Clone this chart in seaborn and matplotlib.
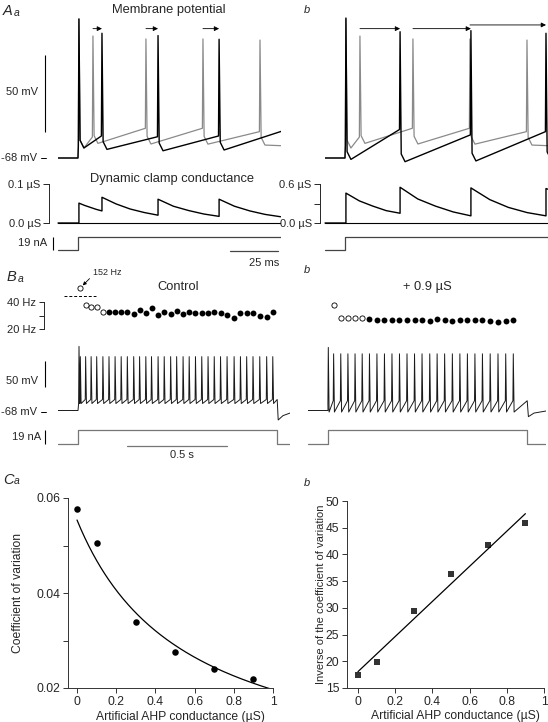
import numpy as np
import matplotlib
matplotlib.use('Agg')
import matplotlib.pyplot as plt
import seaborn as sns

# ---------------- A: single-trial traces (ms, mV, uS, nA) ----------------
step_on_ms = 10.4
step_na = 19
a_end_ms = 116.0

# control (grey) trace, same in Aa and Ab
ctrl_spk_ms = [10.9, 18.2, 45.8, 75.5, 105.2]
ctrl_peak_mv = [22.3, 11.2, 9.3, 9.3, 8.6]
ctrl_thr_mv = [-60.0, -54.4, -48.7, -48.7, -50.9]
ctrl_ahp_mv = [-61.5, -58.5, -58.9, -59.0, -59.6]
ctrl_end_mv = -60.0

# Aa: with dynamic clamp conductance (black)
lo_spk_ms = [10.9, 22.9, 52.1, 83.9]
lo_peak_mv = [22.3, 13.0, 11.5, 9.1]
lo_thr_mv = [-60.0, -53.7, -54.2, -53.7]
lo_ahp_mv = [-61.5, -62.4, -63.3, -62.8]
lo_end_mv = -50.0
lo_g_ms = [0, 10.9, 10.9, 13.9, 16.9, 19.9, 22.9, 22.9, 30.2, 37.5, 44.8, 52.1,
           52.1, 60.1, 68.0, 76.0, 83.9, 83.9, 91.9, 99.9, 107.9, 116.0]
lo_g_us = [0, 0, 0.051, 0.045, 0.040, 0.035, 0.031, 0.066, 0.049, 0.036, 0.027, 0.020,
           0.061, 0.043, 0.032, 0.023, 0.017, 0.061, 0.043, 0.031, 0.022, 0.016]

# Ab: larger conductance (black)
hi_spk_ms = [10.9, 39.1, 76.0, 115.1]
hi_peak_mv = [22.9, 14.0, 14.7, 13.0]
hi_thr_mv = [-60.0, -49.5, -53.0, -50.9]
hi_ahp_mv = [-68.9, -70.4, -69.9, -69.0]
hi_end_mv = -69.0
hi_g_ms = [0, 10.9, 10.9, 17.9, 24.9, 31.9, 39.1, 39.1, 48.3, 57.5, 66.8, 76.0,
           76.0, 85.8, 95.5, 105.3, 115.1, 115.1, 116.0]
hi_g_us = [0, 0, 0.46, 0.34, 0.26, 0.19, 0.15, 0.55, 0.37, 0.26, 0.17, 0.11,
           0.54, 0.36, 0.24, 0.16, 0.11, 0.53, 0.52]

# ---------------- B: 1 s current step (s, mV, Hz) ----------------
step_on_s, step_off_s = 0.1, 1.096
n_open = 5
break_hz, break_show_hz = 44, 50

ctrl_first_spk_s = 0.105
ctrl_freq_hz = [152, 37.6, 36.4, 35.9, 32.3,
                32.8, 32.8, 32.8, 32.6, 31.3, 34.0, 32.1, 35.2, 30.4, 32.6, 31.1, 33.3, 31.1,
                32.8, 31.8, 31.8, 31.8, 32.3, 31.8, 30.6, 28.4, 31.6, 32.1, 31.6, 29.6, 28.9, 32.8]
ctrl_b = dict(first_peak=57, peak=37, first_thr=-55, thr=-46.6, ahp=-54.4,
              tail_s=[1.096, 1.101, 1.125, 1.16], tail_mv=[-46.6, -86.5, -78.0, -73.0], end=1.16)

g09_first_spk_s = 0.1015
g09_freq_hz = [37.6, 28.0, 28.0, 28.0, 28.0,
               27.5, 26.8, 26.6, 26.6, 26.6, 26.6, 26.6, 26.6, 25.9, 27.2,
               26.6, 25.9, 26.6, 26.6, 26.6, 26.6, 25.8, 25.6, 25.9, 26.4]
g09_b = dict(first_peak=55, peak=42.5, first_thr=-55, thr=-49, ahp=-71,
             tail_s=[1.096, 1.102, 1.13, 1.19], tail_mv=[-49.0, -80.0, -73.0, -69.0], end=1.19)

# ---------------- C: regularity vs artificial AHP ----------------
ahp_us = [0, 0.1, 0.3, 0.5, 0.7, 0.9]
cv = [0.0576, 0.0506, 0.0340, 0.0275, 0.0239, 0.0218]
inv_cv = [17.5, 19.8, 29.4, 36.3, 41.7, 45.8]

# ------------------------------------------------------------------
sns.set_style('ticks')
plt.rcParams['font.family'] = ['Liberation Sans', 'DejaVu Sans']
plt.rcParams['axes.linewidth'] = 0.7

W, H = 548, 722
fig = plt.figure(figsize=(W / 100, H / 100), dpi=100)


def px_axes(l, t, r, b):
    ax = fig.add_axes([l / W, 1 - b / H, (r - l) / W, (b - t) / H])
    ax.set_facecolor('none')
    return ax


def calib_axes(l, t, r, b, x_at, x_val, x_per, y_at, y_val, y_per):
    # axes whose data units map to pixels like the original traces
    ax = px_axes(l, t, r, b)
    ax.set_xlim(x_val + (l - x_at) / x_per, x_val + (r - x_at) / x_per)
    ax.set_ylim(y_val - (b - y_at) / y_per, y_val + (y_at - t) / y_per)
    for s in ax.spines.values():
        s.set_visible(False)
    ax.set_xticks([])
    ax.set_yticks([])
    return ax


def ftext(x, y, s, **kw):
    kw.setdefault('va', 'center')
    fig.text(x / W, 1 - y / H, s, **kw)


def build_trace(onset, spikes, peaks, thr, ahp, tail_t, tail_v, rise, fall, knee=None, base=-68.0):
    # polyline through the read points: threshold, peak, (knee), AHP trough
    t, v = [0.0, onset], [base, base]
    for s, p, th, a in zip(spikes, peaks, thr, ahp):
        t += [s - rise, s]
        v += [th, p]
        if knee is not None:
            t.append(s + knee[0])
            v.append(a + knee[1])
        t.append(s + fall)
        v.append(a)
    return t + list(tail_t), v + list(tail_v)


def line(ax, x, y, **kw):
    sns.lineplot(x=x, y=y, sort=False, estimator=None, ax=ax, legend=False, **kw)
    ax.set_xlabel('')
    ax.set_ylabel('')


def vbar(ax, x, y0, y1, lw=0.8, color='k'):
    ax.plot([x, x], [y0, y1], color=color, lw=lw, clip_on=False, solid_capstyle='butt')


GREY = '#8a8a8a'
arrow_kw = dict(arrowstyle='-|>', lw=0.6, color='k', mutation_scale=7, shrinkA=0, shrinkB=0)
a_shape = dict(rise=0.3, fall=2.6, knee=(0.6, 5.0))

ctrl_t, ctrl_v = build_trace(step_on_ms, ctrl_spk_ms, ctrl_peak_mv, ctrl_thr_mv, ctrl_ahp_mv,
                             [a_end_ms], [ctrl_end_mv], **a_shape)

# ---------------- panel A ----------------
for col, (x0, spk, pk, thr, ahp, end_mv, g_t, g_v, g_top, g_per, arr_y, cond_l) in enumerate([
        (58, lo_spk_ms, lo_peak_mv, lo_thr_mv, lo_ahp_mv, lo_end_mv, lo_g_ms, lo_g_us, 0.1, 390, [16, 16, 16], 49),
        (325, hi_spk_ms, hi_peak_mv, hi_thr_mv, hi_ahp_mv, hi_end_mv, hi_g_ms, hi_g_us, 0.6, 65, [16, 16, 18.4], 320)]):
    right = x0 + a_end_ms * 1.92
    axv = calib_axes(x0, 10, right, 166, x0, 0, 1.92, 158, -68, 1.54)
    bt, bv = build_trace(step_on_ms, spk, pk, thr, ahp, [a_end_ms + 2], [end_mv], **a_shape)
    line(axv, ctrl_t, ctrl_v, color=GREY, lw=0.9)
    line(axv, bt, bv, color='k', lw=1.0)
    for i, y in zip([1, 2, 3], arr_y):
        axv.annotate('', xy=(spk[i], y), xytext=(ctrl_spk_ms[i], y), arrowprops=arrow_kw)

    axg = calib_axes(cond_l, 178, right, 226, x0, 0, 1.92, 223, 0, g_per)
    line(axg, [0, a_end_ms], [0, 0], color='k', lw=0.8)
    line(axg, g_t, g_v, color='k', lw=1.0)
    axg.spines['left'].set_visible(True)
    axg.spines['left'].set_bounds(0, g_top)
    if col == 0:
        axg.set_yticks([0, g_top], ['0.0 µS', '0.1 µS'])
    else:
        axg.set_yticks([0, g_top / 2, g_top], ['0.0 µS', '', '0.6 µS'])
    axg.tick_params(axis='y', direction='out', length=4, width=0.7, pad=2, labelsize=8)

    axi = calib_axes(x0 - 10, 233, right, 254, x0, 0, 1.92, 250, 0, 13 / 19)
    line(axi, [0, step_on_ms, step_on_ms, a_end_ms], [0, 0, step_na, step_na], color='#444', lw=0.9)
    if col == 0:
        vbar(axv, -6.8, -51, -1)
        vbar(axi, -2.6, 0, step_na)
        axi.plot([89.6, 89.6 + 25], [-1, -1], color='#444', lw=0.9, clip_on=False)

ftext(38, 92, '50 mV', ha='right', fontsize=8)
ftext(37, 158, '-68 mV', ha='right', fontsize=8)
fig.add_artist(plt.Line2D([41 / W, 46 / W], [1 - 158 / H] * 2, color='k', lw=0.7))
ftext(47, 243, '19 nA', ha='right', fontsize=8)
ftext(264, 263, '25 ms', ha='center', fontsize=8)
ftext(169, 10.5, 'Membrane potential', ha='center', fontsize=9.3)
ftext(172, 179, 'Dynamic clamp conductance', ha='center', fontsize=9.3)

# ---------------- panel B ----------------
for col, (x0, first, freq, prm) in enumerate([(58, ctrl_first_spk_s, ctrl_freq_hz, ctrl_b),
                                              (308, g09_first_spk_s, g09_freq_hz, g09_b)]):
    f = np.asarray(freq, dtype=float)
    spk = first + np.concatenate([[0], np.cumsum(1 / f)])
    n = len(spk)
    right = x0 + prm['end'] * 200
    freq_left = 44 if col == 0 else x0

    axf = calib_axes(freq_left, 282, right, 334, x0, 0, 200, 301.7, 40, 1.38)
    shown = np.where(f > break_hz, break_show_hz, f)
    sns.scatterplot(x=spk[1:n_open + 1], y=shown[:n_open], ax=axf, s=14, color='white',
                    edgecolor='black', linewidth=0.6, legend=False)
    sns.scatterplot(x=spk[n_open + 1:], y=shown[n_open:], ax=axf, s=18, color='black',
                    edgecolor='black', linewidth=0, legend=False)
    axf.set_xlabel('')
    axf.set_ylabel('')
    if col == 0:
        axf.spines['left'].set_visible(True)
        axf.spines['left'].set_bounds(20, 40)
        axf.set_yticks([20, 30, 40], ['20 Hz', '', '40 Hz'])
        axf.tick_params(axis='y', direction='out', length=3.5, width=0.7, pad=2, labelsize=8)
        axf.plot([0.03, 0.19], [break_hz, break_hz], color='k', lw=0.7, ls=(0, (3, 2)))
        axf.annotate(f'{f[0]:.0f} Hz', xy=(spk[1], break_show_hz), xytext=(9, 11),
                     textcoords='offset points', ha='left', va='center', fontsize=6.5,
                     arrowprops=dict(arrowstyle='-|>', lw=0.6, color='k', mutation_scale=5,
                                     shrinkA=0, shrinkB=2.5, relpos=(0, 0.2)))

    axv = calib_axes(x0, 338, right, 426, x0, 0, 200, 410.5, -68, 0.513)
    peaks = [prm['first_peak']] + [prm['peak']] * (n - 1)
    thr = [prm['first_thr']] + [prm['thr']] * (n - 1)
    ahp = [prm['ahp']] * n
    bt, bv = build_trace(step_on_s, spk, peaks, thr, ahp, prm['tail_s'], prm['tail_mv'], 0.002, 0.004)
    line(axv, bt, bv, color='#1a1a1a', lw=0.7)

    axi = calib_axes(x0 - 15, 427, right, 448, x0, 0, 200, 444.3, 0, 14.3 / 19)
    line(axi, [0, step_on_s, step_on_s, step_off_s, step_off_s, prm['end']],
         [0, 0, step_na, step_na, 0, 0], color='#777', lw=0.9)
    if col == 0:
        vbar(axv, -0.065, -21.5, 28.5)
        vbar(axi, -0.065, 0, step_na)
        axi.plot([0.343, 0.843], [-1.9, -1.9], color='#777', lw=0.9, clip_on=False)

ftext(38, 381, '50 mV', ha='right', fontsize=8)
ftext(37, 411.5, '-68 mV', ha='right', fontsize=8)
fig.add_artist(plt.Line2D([41 / W, 46 / W], [1 - 411.5 / H] * 2, color='k', lw=0.7))
ftext(41, 437, '19 nA', ha='right', fontsize=8)
ftext(181.7, 454.5, '0.5 s', ha='center', fontsize=8)
ftext(178, 286.7, 'Control', ha='center', fontsize=9.3)
ftext(427, 287.3, '+ 0.9 µS', ha='center', fontsize=9.3)

# ---------------- panel C ----------------
xt = [0, 0.2, 0.4, 0.6, 0.8, 1]
xtl = ['0', '0.2', '0.4', '0.6', '0.8', '1']
xlab = 'Artificial AHP conductance (µS)'

slope, icpt = np.polyfit(ahp_us, inv_cv, 1)
x_fit = np.linspace(0, 1, 200)

axa = px_axes(68, 498, 273, 688)
sns.lineplot(x=x_fit, y=1 / (icpt + slope * x_fit), color='k', lw=0.9, ax=axa)
sns.scatterplot(x=ahp_us, y=cv, ax=axa, s=22, color='k', edgecolor='k', linewidth=0)
axa.set_xlim(-0.046, 1.0)
axa.set_ylim(0.02, 0.06)
axa.set_yticks([0.02, 0.04, 0.06], ['0.02', '0.04', '0.06'])
axa.set_yticks([0.03, 0.05], minor=True)
axa.set_ylabel('Coefficient of variation', fontsize=8.7)
axa.yaxis.set_label_coords(-0.215, 0.5)

axb = px_axes(347, 501, 544, 688)
sns.regplot(x=ahp_us, y=inv_cv, ax=axb, ci=None, marker='s', color='k',
            scatter_kws=dict(s=19, edgecolor='k', linewidths=0), line_kws=dict(lw=0.9))
axb.set_xlim(-0.059, 1.0)
axb.set_ylim(15, 50)
axb.set_yticks(range(15, 51, 5))
axb.set_ylabel('Inverse of the coefficient of variation', fontsize=8)
axb.yaxis.set_label_coords(-0.107, 0.5)

for ax in (axa, axb):
    sns.despine(ax=ax)
    ax.set_xticks(xt, xtl)
    ax.set_xlabel(xlab, fontsize=8.7)
    ax.xaxis.set_label_coords(0.55, -0.12)
    for s in ('left', 'bottom'):
        ax.spines[s].set_color('#333')
        ax.spines[s].set_linewidth(0.7)
    ax.tick_params(which='both', direction='out', length=3.5, width=0.7, color='#333',
                   labelsize=8.7, pad=2)

# ---------------- panel letters ----------------
for x, y, big in [(3, 11, 'A'), (7, 277, 'B'), (3, 480, 'C')]:
    ftext(x, y, big, ha='left', fontsize=10.5, style='italic')
    ftext(x + 10.5, y + 1.5, 'a', ha='left', fontsize=7.5, style='italic')
for y in (10, 270, 483):
    ftext(307, y, 'b', ha='center', fontsize=8, style='italic')

fig.savefig('out.png', dpi=100)
